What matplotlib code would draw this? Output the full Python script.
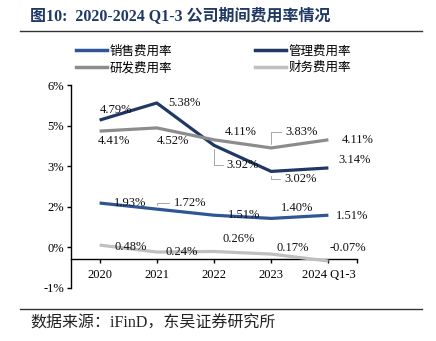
import matplotlib
matplotlib.use('Agg')
from matplotlib import pyplot
from matplotlib.lines import Line2D
from matplotlib.ticker import FixedLocator, FormatStrFormatter
import numpy as np

years = ['2020', '2021', '2022', '2023', '2024 Q1-3']
sales = [1.93, 1.72, 1.51, 1.40, 1.51]
admin = [4.79, 5.38, 3.92, 3.02, 3.14]
rnd = [4.41, 4.52, 4.11, 3.83, 4.11]
finance = [0.48, 0.24, 0.26, 0.17, -0.07]

# label offsets in pixels from each point, and which labels get a leader line
sales_off = [(31, 0), (33, 6), (30, 0), (26, 10), (24, -1)]
admin_off = [(16, 10), (28, 0), (29, -20), (29, -8), (26, 8)]
rnd_off = [(14, -10), (16, -13), (27, 8), (30, 16), (29, 0)]
fin_off = [(31, -2), (25, 0), (25, 12), (22, 6), (19, 13)]
sales_lead = [False, True, False, False, False]
admin_lead = [False, False, True, True, False]
rnd_lead = [False, False, False, True, False]
fin_lead = [False] * 5

serif = ['Liberation Serif', 'Noto Sans CJK SC']
pyplot.rcParams['font.family'] = serif
pyplot.rcParams['axes.unicode_minus'] = False

fig = pyplot.figure(figsize=(4.36, 3.41), dpi=100, facecolor='white')
ax = fig.add_axes([71 / 436, 1 - 288 / 341, (357 - 71) / 436, (288 - 85) / 341])

x = np.arange(len(years))
series = [
    (sales, '#2F5597', sales_off, sales_lead, '销售费用率'),
    (admin, '#1F3864', admin_off, admin_lead, '管理费用率'),
    (rnd, '#8C8C8C', rnd_off, rnd_lead, '研发费用率'),
    (finance, '#BFBFBF', fin_off, fin_lead, '财务费用率'),
]
for vals, col, offs, leads, name in series:
    ax.plot(x, vals, color=col, lw=2.3, solid_capstyle='butt', zorder=3)
    for xi, v, (dx, dy), lead in zip(x, vals, offs, leads):
        arrow = None
        if lead:
            arrow = dict(arrowstyle='-', color='#A6A6A6', lw=0.7, relpos=(0, 0.5),
                         shrinkA=1, shrinkB=3,
                         connectionstyle='angle,angleA=0,angleB=90,rad=0')
        ax.annotate(f'{v:.2f}%', xy=(xi, v), xytext=(dx, dy), textcoords='offset pixels',
                    ha='center', va='center', fontsize=9, color='#111111', zorder=4,
                    arrowprops=arrow)

ax.set_xlim(-0.5, 4.5)
ax.set_ylim(-1, 6)
ax.yaxis.set_major_locator(FixedLocator(np.arange(-1, 6.01, 1.4)))
ax.yaxis.set_major_formatter(FormatStrFormatter('%.0f%%'))
ax.set_xticks(x)
ax.set_xticklabels(years)
ax.set_xticks([4.5], minor=True)

ax.spines['top'].set_visible(False)
ax.spines['right'].set_visible(False)
ax.spines['bottom'].set_position(('data', 0))
for s in ('left', 'bottom'):
    ax.spines[s].set_linewidth(1.0)
    ax.spines[s].set_color('black')
ax.tick_params(axis='y', direction='out', length=3, width=1, labelsize=9, pad=2)
ax.tick_params(axis='x', which='both', direction='out', length=3, width=1, labelsize=9, pad=4)
ax.set_facecolor('none')

# legend in two columns above the plot (column-major order)
order = [0, 2, 1, 3]
handles = [Line2D([], [], color=series[i][1], lw=2.5) for i in order]
labels = [series[i][4] for i in order]
fig.legend(handles, labels, ncol=2, loc='center', bbox_to_anchor=(0.49, 0.825),
           frameon=False, fontsize=9, handlelength=2.5, handletextpad=0.2,
           columnspacing=6.6, labelspacing=0.35)

# title and source lines
fig.text(30 / 436, 1 - 16 / 341, '图10:  2020-2024 Q1-3 公司期间费用率情况', fontsize=11.5,
         fontweight='bold', color='#1F3864', va='center', ha='left')
fig.add_artist(Line2D([20 / 436, 422 / 436], [1 - 31 / 341] * 2, color='#333333', lw=1.0))
fig.add_artist(Line2D([20 / 436, 422 / 436], [1 - 309 / 341] * 2, color='#333333', lw=1.0))
fig.text(30 / 436, 1 - 324 / 341, '数据来源：iFinD，东吴证券研究所', fontsize=11.5,
         color='#222222', va='center', ha='left')

pyplot.savefig('out.png', dpi=100)
pyplot.close()
